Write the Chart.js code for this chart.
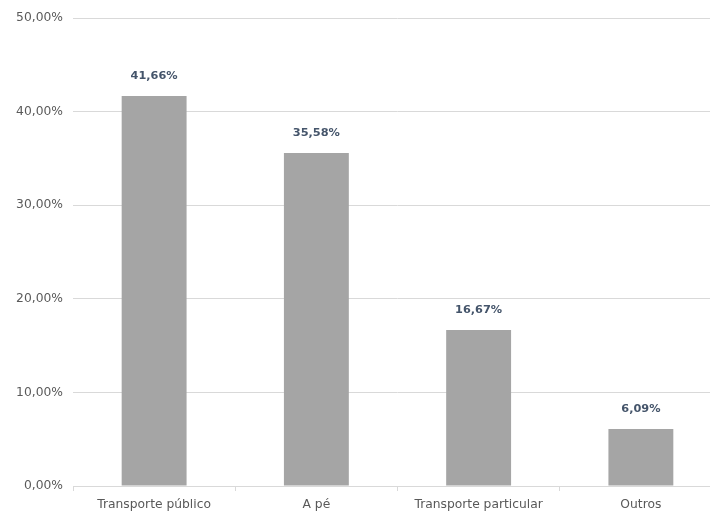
<!DOCTYPE html>
<html>
<head>
<meta charset="utf-8">
<script src="https://cdn.jsdelivr.net/npm/chart.js@4/dist/chart.umd.min.js"></script>
<style>
  html, body { margin: 0; padding: 0; background: #fff; overflow: hidden; }
  #wrap { width: 722px; height: 514px; }
</style>
</head>
<body>
<div id="wrap"><canvas id="chart"></canvas></div>
<script>
const categories = ['Transporte público', 'A pé', 'Transporte particular', 'Outros'];
const shares = [41.66, 35.58, 16.67, 6.09];
const yTicks = [0, 10, 20, 30, 40, 50];

const fmt = v => v.toFixed(2).replace('.', ',') + '%';
const axisFont = { family: '"DejaVu Sans", sans-serif', size: 12.3 };

// value labels above each bar
const barLabels = {
  id: 'barLabels',
  afterDatasetsDraw(chart) {
    const ctx = chart.ctx;
    const meta = chart.getDatasetMeta(0);
    ctx.save();
    ctx.font = 'bold 11.3px "DejaVu Sans", sans-serif';
    ctx.fillStyle = '#44546a';
    ctx.textAlign = 'center';
    ctx.textBaseline = 'middle';
    meta.data.forEach((bar, i) => {
      ctx.fillText(fmt(shares[i]), bar.x, bar.y - 20);
    });
    ctx.restore();
  }
};

const ctx = document.getElementById('chart').getContext('2d');
new Chart(ctx, {
  type: 'bar',
  data: {
    labels: categories,
    datasets: [{
      data: shares,
      backgroundColor: '#a5a5a5',
      barPercentage: 0.8,
      categoryPercentage: 0.5
    }]
  },
  options: {
    responsive: true,
    maintainAspectRatio: false,
    animation: false,
    layout: { padding: { top: 18, left: 0, right: 0, bottom: 0 } },
    plugins: { legend: { display: false }, tooltip: { enabled: false } },
    scales: {
      x: {
        grid: { offset: true, drawOnChartArea: false, drawTicks: true, tickLength: 5, color: '#d9d9d9' },
        border: { color: '#d9d9d9' },
        ticks: { color: '#595959', font: axisFont, padding: 6, maxRotation: 0 },
        afterFit(s) { s.height = 28; }
      },
      y: {
        min: 0, max: 50,
        afterBuildTicks(s) { s.ticks = yTicks.map(v => ({ value: v })); },
        grid: { color: '#d9d9d9', drawTicks: false },
        border: { display: false },
        ticks: { color: '#595959', font: axisFont, padding: 10, callback: v => fmt(v) },
        afterFit(s) { s.width = 73; }
      }
    }
  },
  plugins: [barLabels]
});
</script>
</body>
</html>
